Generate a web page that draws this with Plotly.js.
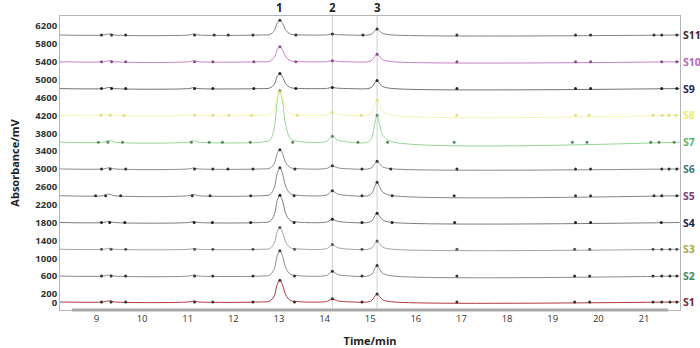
<!DOCTYPE html>
<html>
<head>
<meta charset="utf-8">
<script src="https://cdn.plot.ly/plotly-3.0.1.min.js"></script>
<style>html,body{margin:0;padding:0;background:#fff;}#chart{width:700px;height:348px;}</style>
</head>
<body>
<div id="chart"></div>
<script>
// ---- data ----
const sampleNames = ["S1","S2","S3","S4","S5","S6","S7","S8","S9","S10","S11"];
const offsets = [20, 600, 1200, 1800, 2400, 3000, 3600, 4200, 4800, 5400, 6000];
const time = [8.2, 9.15, 9.27, 9.4, 11.02, 11.12, 11.24,
  12.6, 12.8, 12.9, 12.96, 13.02, 13.08, 13.15, 13.25, 13.45,
  13.95, 14.07, 14.12, 14.17, 14.23, 14.3, 14.5,
  14.95, 15.04, 15.1, 15.15, 15.2, 15.27, 15.45, 21.78];
const S1  = [0,0,25,0,0,20,0, 0,19,146,389,486,379,156,34,5, 0,18,49,70,46,21,4, 0,36,126,180,126,50,5, 0];
const S2  = [0,0,25,0,0,20,0, 0,23,170,454,567,442,181,40,6, 0,27,76,108,70,32,5, 0,47,165,235,165,66,7, 0];
const S3  = [0,0,20,0,0,15,0, 0,19,146,389,486,379,156,34,5, 0,26,74,105,68,32,5, 0,37,128,183,128,51,5, 0];
const S4  = [0,0,25,0,0,20,0, 0,24,184,490,612,477,196,43,6, 0,19,53,75,49,23,4, 0,42,147,210,147,59,6, 0];
const S5  = [0,0,35,0,0,30,0, 0,25,188,500,625,488,200,44,6, 0,28,78,112,73,34,6, 0,60,210,300,210,84,9, 0];
const S6  = [0,0,25,0,0,20,0, 0,17,129,344,430,335,138,30,4, 0,18,50,72,47,22,4, 0,34,120,172,120,48,5, 0];
const S7  = [0,0,40,0,0,30,0, 0,46,345,920,1150,897,368,81,12, 0,34,95,135,88,41,7, 0,120,420,600,420,168,18, 0];
const S8  = [0,0,25,0,0,20,0, 0,21,155,412,515,402,165,36,5, 0,18,49,70,46,21,4, 0,67,235,336,235,94,10, 0];
const S9  = [0,0,25,0,0,20,0, 0,13,101,269,336,262,108,24,3, 0,6,18,25,16,8,1, 0,36,126,180,126,50,5, 0];
const S10 = [0,0,25,0,0,20,0, 0,13,101,269,336,262,108,24,3, 0,6,18,25,16,8,1, 0,34,119,170,119,48,5, 0];
const S11 = [0,0,25,0,0,20,0, 0,13,99,264,330,257,106,23,3, 0,6,18,25,16,8,1, 0,27,95,135,95,38,4, 0];
const signals = [S1,S2,S3,S4,S5,S6,S7,S8,S9,S10,S11];

// integration event times (baseline markers) per sample
const E1  = [9.11,9.32,9.64,11.15,11.55,12.43,13.34,14.82,16.9,19.48,19.81,21.2,21.39,21.57,21.72];
const E2  = [9.11,9.32,9.64,11.15,11.55,12.43,13.34,14.82,16.9,19.48,19.81,21.2,21.39,21.57,21.72];
const E3  = [9.11,9.32,9.64,11.15,11.55,12.43,13.34,14.82,16.9,19.48,19.81,21.2,21.39,21.57,21.72];
const E4  = [9.11,9.29,9.62,11.14,11.54,12.38,13.33,14.82,15.48,16.85,19.5,19.83,21.38];
const E5  = [8.98,9.2,9.53,11.1,11.49,12.38,13.33,14.82,15.48,16.84,19.5,19.83,21.22,21.39,21.72];
const E6  = [9.11,9.3,9.64,11.15,11.55,11.88,12.43,13.35,14.82,15.45,16.9,19.5,19.83,21.39,21.55,21.72];
const E7  = [9.04,9.25,9.57,11.08,11.47,11.76,12.37,13.3,14.73,15.38,16.84,19.43,19.75,21.15,21.33,21.66];
const E8  = [9.1,9.3,9.6,11.15,11.55,11.9,12.4,13.4,14.8,16.9,19.5,19.8,21.2,21.4,21.55,21.7];
const E9  = [9.11,9.33,9.64,11.15,11.55,12.45,13.37,16.9,19.5,19.83,21.39,21.72];
const E10 = [9.11,9.33,9.64,11.15,11.55,12.45,13.37,16.9,19.5,19.83,21.39,21.72];
const E11 = [9.11,9.33,9.64,11.15,11.58,11.89,12.43,13.37,14.84,16.9,19.5,19.83,21.22,21.39,21.72];
const events = [E1,E2,E3,E4,E5,E6,E7,E8,E9,E10,E11];

const peakTimes = [13.02, 14.17, 15.15];
const peakLabels = ["1", "2", "3"];
const xTicks = [9,10,11,12,13,14,15,16,17,18,19,20,21];
const yTicks = [0,200,600,1000,1400,1800,2200,2600,3000,3400,3800,4200,4600,5000,5400,5800,6200];

// ---- styles ----
const lineColors  = ["#b03a3a","#8c8c8c","#a4a4a4","#7c7c7c","#858585","#8c8c8c","#96d696","#f4f4b0","#737373","#c780c7","#8a8080"];
const labelColors = ["#7b1f2e","#3d8a5a","#a8a83a","#222244","#7a3d6e","#3b7a7a","#5cb85c","#eeee66","#22225a","#b768b7","#4a2222"];
const dotColors   = ["#333","#333","#555","#222","#333","#333","#5a8a5a","#e0e080","#222","#8a4a8a","#333"];

const traces = [];
signals.forEach((sig, i) => {
  traces.push({
    x: time, y: sig.map(v => v + offsets[i]),
    type: "scatter", mode: "lines",
    line: {color: lineColors[i], width: 1, shape: "spline", smoothing: 0.9},
    hoverinfo: "skip", showlegend: false
  });
  const mx = events[i].slice();
  const my = events[i].map(() => offsets[i]);
  peakTimes.forEach(pt => {
    const k = time.indexOf(pt);
    mx.push(pt); my.push(offsets[i] + sig[k]);
  });
  traces.push({
    x: mx, y: my, type: "scatter", mode: "markers",
    marker: {color: dotColors[i], size: 3, symbol: "circle"},
    hoverinfo: "skip", showlegend: false
  });
});

const annotations = [];
peakTimes.forEach((pt, j) => {
  annotations.push({x: pt, xref: "x", y: 1, yref: "paper", yanchor: "bottom", yshift: -1,
    text: peakLabels[j], showarrow: false,
    font: {family: "Open Sans, Arial, sans-serif", size: 11.5, color: "#222", weight: "bold"}});
});
sampleNames.forEach((nm, i) => {
  annotations.push({x: 1, xref: "paper", xanchor: "left", xshift: 1, y: offsets[i], yref: "y",
    text: nm, showarrow: false,
    font: {family: "Open Sans, Arial, sans-serif", size: 10.5, color: labelColors[i], weight: "bold"}});
});

const shapes = [];
[peakTimes[1], peakTimes[2]].forEach(pt => {
  shapes.push({type: "line", xref: "x", yref: "paper", x0: pt, x1: pt, y0: 0, y1: 1,
    line: {color: "#cfcfcf", width: 1}, layer: "below"});
});
shapes.push({type: "line", xref: "x", yref: "paper", x0: 8.46, x1: 21.53, y0: 0, y1: 0,
  line: {color: "#a9a9a9", width: 3}, layer: "above"});

const layout = {
  width: 700, height: 348,
  margin: {l: 60, r: 20, t: 16, b: 38},
  paper_bgcolor: "#fff", plot_bgcolor: "#fff",
  font: {family: "Open Sans, Arial, sans-serif", color: "#333"},
  xaxis: {
    range: [8.2, 21.79], tickvals: xTicks, ticktext: xTicks.map(String),
    showgrid: false, zeroline: false, showline: true, mirror: true,
    linecolor: "#b5b5b5", linewidth: 1, ticks: "",
    tickfont: {size: 9.5, color: "#333"},
    title: {text: "Time/min", font: {size: 11, color: "#222", weight: "bold"}, standoff: 14}
  },
  yaxis: {
    range: [-160, 6426], tickvals: yTicks, ticktext: yTicks.map(String),
    showgrid: false, zeroline: false, showline: true, mirror: true,
    linecolor: "#b5b5b5", linewidth: 1, ticks: "",
    tickfont: {size: 9.5, color: "#333", weight: "bold"},
    title: {text: "Absorbance/mV", font: {size: 11, color: "#222", weight: "bold"}, standoff: 13}
  },
  annotations: annotations,
  shapes: shapes,
  showlegend: false
};

Plotly.newPlot("chart", traces, layout, {displayModeBar: false, staticPlot: true});
</script>
</body>
</html>
